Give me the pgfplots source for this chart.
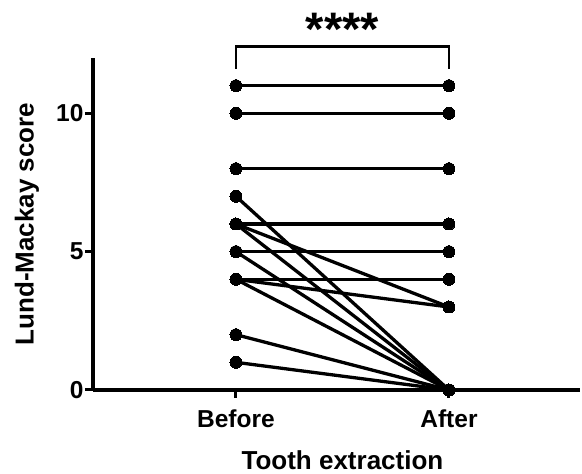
\documentclass[border=0pt]{standalone}
\usepackage{pgfplots}
\pgfplotsset{compat=1.18}
\usepackage{fontspec}
\setmainfont{Liberation Sans}
\tikzset{pl/.style={black, solid, line width=3.3pt, mark=*, mark size=6pt, mark options={fill=black, solid, line width=0pt}}}
\begin{document}
\begin{tikzpicture}
\path[use as bounding box] (-93pt,-84pt) rectangle (489pt,390pt);
\begin{axis}[
  at={(0,0)}, anchor=south west,
  scale only axis,
  width=487pt, height=332pt,
  xmin=-0.671, xmax=1.615,
  ymin=0, ymax=12,
  axis x line=bottom, axis y line=left,
  axis line style={line width=3.3pt, -},
  xtick align=outside, ytick align=outside,
  major tick length=8pt,
  xtick style={draw=black, line width=3pt},
  ytick style={draw=black, line width=3pt},
  xtick={0,1}, xticklabels={Before,After},
  ytick={0,5,10},
  /pgf/number format/assume math mode=true,
  tick label style={font=\bfseries\fontsize{24.5}{24.5}\selectfont},
  xticklabel style={yshift=-8pt},
  yticklabel style={xshift=2pt},
  xlabel={Tooth extraction}, ylabel={Lund-Mackay score},
  every axis x label/.style={at={(axis cs:0.5,0)}, yshift=-80pt, anchor=base, font=\bfseries\fontsize{26}{26}\selectfont},
  every axis y label/.style={at={(rel axis cs:0,0.5)}, xshift=-66pt, rotate=90, anchor=center, font=\bfseries\fontsize{26}{26}\selectfont},
  clip=false,
]
\draw[line width=3pt] (axis cs:0,0) -- ([yshift=-8pt]axis cs:0,0);
\draw[line width=3pt] (axis cs:1,0) -- ([yshift=-8pt]axis cs:1,0);
\draw[line width=3pt] (axis cs:-0.671,0) -- ([xshift=-7pt]axis cs:-0.671,0);
\draw[line width=3pt] (axis cs:-0.671,5) -- ([xshift=-7pt]axis cs:-0.671,5);
\draw[line width=3pt] (axis cs:-0.671,10) -- ([xshift=-7pt]axis cs:-0.671,10);
\addplot[pl] coordinates {(0,11) (1,11)};
\addplot[pl] coordinates {(0,10) (1,10)};
\addplot[pl] coordinates {(0,8) (1,8)};
\addplot[pl] coordinates {(0,7) (1,0)};
\addplot[pl] coordinates {(0,6) (1,6)};
\addplot[pl] coordinates {(0,6) (1,3)};
\addplot[pl] coordinates {(0,6) (1,0)};
\addplot[pl] coordinates {(0,5) (1,5)};
\addplot[pl] coordinates {(0,5) (1,0)};
\addplot[pl] coordinates {(0,4) (1,4)};
\addplot[pl] coordinates {(0,4) (1,3)};
\addplot[pl] coordinates {(0,4) (1,0)};
\addplot[pl] coordinates {(0,2) (1,0)};
\addplot[pl] coordinates {(0,1) (1,0)};
\draw[line width=2.6pt] (axis cs:0,11.62) |- (axis cs:1,12.41) -- (axis cs:1,11.62);
\node[font=\bfseries\fontsize{47}{47}\selectfont, inner sep=0pt] at (axis cs:0.5,13.05) {****};
\end{axis}
\end{tikzpicture}
\end{document}
